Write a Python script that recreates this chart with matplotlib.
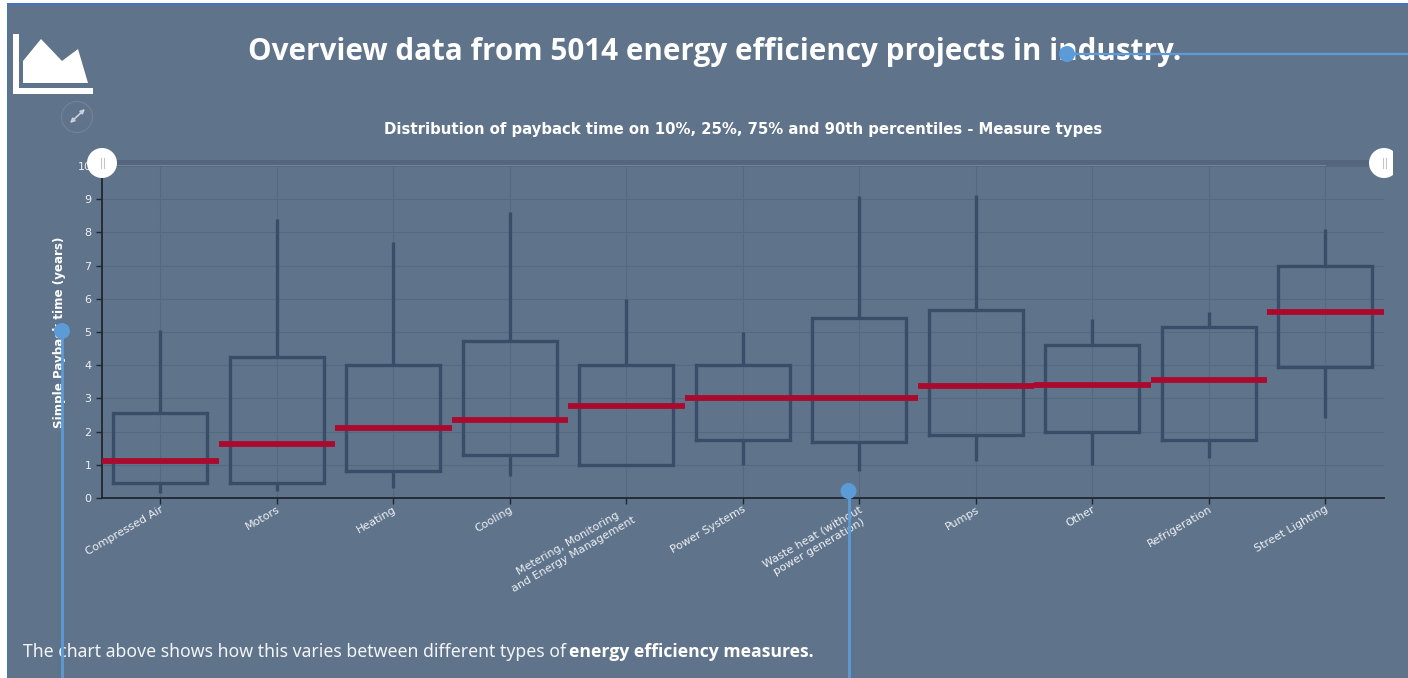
import matplotlib
matplotlib.use("Agg")
import matplotlib.pyplot as plt
from matplotlib.patches import Circle, Polygon, Rectangle

categories = ["Compressed Air", "Motors", "Heating", "Cooling",
              "Metering, Monitoring\nand Energy Management", "Power Systems",
              "Waste heat (without\npower generation)", "Pumps", "Other",
              "Refrigeration", "Street Lighting"]
p10 = [0.15, 0.2, 0.3, 0.65, 1.0, 1.0, 0.8, 1.1, 1.0, 1.2, 2.4]
p25 = [0.45, 0.45, 0.8, 1.3, 1.0, 1.75, 1.7, 1.9, 2.0, 1.75, 3.95]
median = [1.1, 1.62, 2.1, 2.35, 2.78, 3.0, 3.0, 3.37, 3.4, 3.55, 5.6]
p75 = [2.55, 4.25, 4.0, 4.72, 4.0, 4.0, 5.43, 5.65, 4.62, 5.15, 7.0]
p90 = [5.05, 8.4, 7.72, 8.6, 6.0, 5.0, 9.1, 9.13, 5.4, 5.6, 8.1]
y_ticks = list(range(0, 11))

title = "Overview data from 5014 energy efficiency projects in industry."
subtitle = "Distribution of payback time on 10%, 25%, 75% and 90th percentiles - Measure types"
y_label = "Simple Payback time (years)"
note_regular = "The chart above shows how this varies between different types of"
note_bold = "energy efficiency measures."

BG = "#5f738a"
BOX = "#3a4d68"
RED = "#ab0a2f"
GRID = "#566980"
AXIS = "#1f2733"
BLUE = "#5b9bd8"
W, H = 1408, 678

fig = plt.figure(figsize=(W / 100, H / 100), dpi=100, facecolor="white")

bg = fig.add_axes([0, 0, 1, 1], zorder=0)
bg.set_xlim(0, W); bg.set_ylim(H, 0); bg.axis("off")
bg.add_patch(Rectangle((7, 3), W - 7, H - 3, fc=BG, ec="none"))
bg.add_patch(Rectangle((7, 3), W - 7, 2, fc="#4472c4", ec="none"))
bg.add_patch(Rectangle((7, 3), 1.2, H - 3, fc="#4472c4", ec="none"))
bg.add_patch(Rectangle((102, 159.5), 1281.5, 6.5, fc="#53667e", ec="none"))
bg.plot([102, 1325], [164.5, 164.5], color="#76828f", lw=0.8)

ax = fig.add_axes([102 / W, (H - 498) / H, 1281.5 / W, 332 / H], zorder=1)
ax.patch.set_alpha(0)
x = list(range(len(categories)))
stats = [dict(whislo=a, q1=b, med=c, q3=d, whishi=e, fliers=[], label="")
         for a, b, c, d, e in zip(p10, p25, median, p75, p90)]
box_style = dict(color=BOX, lw=2.4, solid_joinstyle="miter")
ax.bxp(stats, positions=x, widths=0.81, showcaps=False, showfliers=False,
       boxprops=box_style, whiskerprops=dict(color=BOX, lw=2.4, solid_capstyle="butt"),
       medianprops=dict(visible=False), zorder=3)
ax.hlines(median, [i - 0.5 for i in x], [i + 0.5 for i in x], color=RED, lw=4.2,
          capstyle="butt", zorder=4)
ax.set_xlim(-0.5, len(categories) - 0.5)
ax.set_ylim(0, 10)
ax.set_yticks(y_ticks)
ax.set_xticks(x)
ax.set_xticklabels(categories, rotation=30, ha="right", va="top",
                   rotation_mode="anchor", ma="center", fontsize=8,
                   color="#eef1f5", family="DejaVu Sans", linespacing=1.25)
ax.tick_params(axis="x", length=4.5, width=1, color=AXIS, pad=0)
ax.tick_params(axis="y", length=4.5, width=1, color=AXIS, pad=3,
               labelcolor="#eef1f5", labelsize=8)
ax.grid(True, color=GRID, lw=0.8)
ax.set_axisbelow(True)
for s in ["top", "right"]:
    ax.spines[s].set_visible(False)
for s in ["left", "bottom"]:
    ax.spines[s].set_color(AXIS)
    ax.spines[s].set_linewidth(1.3)

fg = fig.add_axes([0, 0, 1, 1], zorder=2)
fg.set_xlim(0, W); fg.set_ylim(H, 0); fg.axis("off"); fg.patch.set_alpha(0)
fg.text(714.5, 52, title, ha="center", va="center", color="white",
        family="Open Sans", weight="bold", fontsize=21.3)
fg.text(743, 129.5, subtitle, ha="center", va="center", color="white",
        family="DejaVu Sans", weight="bold", fontsize=10.7)
fg.text(60, 332, y_label, ha="center", va="center", rotation=90, color="white",
        family="DejaVu Sans", weight="bold", fontsize=8.6)
fg.text(23, 652, note_regular, ha="left", va="center", color="#f2f4f7",
        family="Noto Sans", fontsize=12.7)
fg.text(569, 652, note_bold, ha="left", va="center", color="white",
        family="Open Sans", weight="bold", fontsize=12.7)

fg.add_patch(Polygon([(13, 34), (18.5, 34), (18.5, 88), (93, 88), (93, 94), (13, 94)],
                     fc="white", ec="none"))
fg.add_patch(Polygon([(23, 83), (23, 61), (41, 39), (62, 61), (78, 49), (88, 83)],
                     fc="white", ec="none"))
fg.add_patch(Circle((77, 117), 15.5, fc="none", ec="#718297", lw=0.9))
fg.annotate("", xy=(85, 109), xytext=(70, 123),
            arrowprops=dict(arrowstyle="<|-|>", color="#c9cfd6", lw=1.2,
                            mutation_scale=6, shrinkA=0, shrinkB=0))

for hx in (102, 1384):
    fg.add_patch(Circle((hx, 163), 15, fc="white", ec="none", zorder=5))
    fg.plot([hx - 1.5, hx - 1.5], [158, 168], color="#c5c5c5", lw=0.8, zorder=6)
    fg.plot([hx + 1.5, hx + 1.5], [158, 168], color="#c5c5c5", lw=0.8, zorder=6)
fg.add_patch(Rectangle((1393, 145), 15, 36, fc=BG, ec="none", zorder=7))

fg.plot([1067, W], [54, 54], color=BLUE, lw=1.6, zorder=8)
fg.plot([62, 62], [331, H], color=BLUE, lw=2, zorder=8)
fg.plot([848.5, 848.5], [491, H], color=BLUE, lw=2, zorder=8)
for cx, cy in [(1067, 54), (62, 331), (848.5, 491)]:
    fg.add_patch(Circle((cx, cy), 8, fc=BLUE, ec="none", zorder=9))

fig.savefig("out.png", dpi=100, facecolor="white")
